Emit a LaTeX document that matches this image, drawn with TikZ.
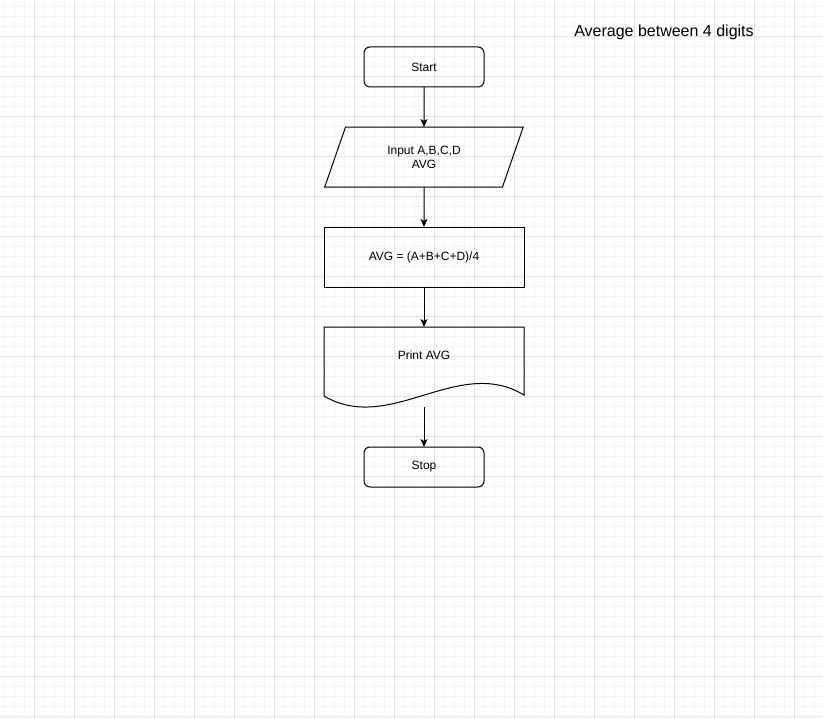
\documentclass[tikz,border=0pt]{standalone}
\usepackage{xcolor}
\usepackage{fontspec}
\setmainfont{Liberation Sans}
\usepackage{tikz}
\usetikzlibrary{arrows.meta,positioning,shapes.geometric}
\definecolor{minorgrid}{HTML}{F4F4F4}
\definecolor{majorgrid}{HTML}{E2E2E2}

\begin{document}
\begin{tikzpicture}[>={Stealth[length=8pt,width=7pt,inset=2pt]},x=1pt,y=1pt,node distance=40pt,
  every node/.style={font=\fontsize{12}{14}\selectfont,outer sep=0pt},
  term node/.style={rectangle,rounded corners=6pt,draw,line width=1pt,minimum width=120pt,minimum height=40pt},
  io node/.style={trapezium,trapezium left angle=71.57,trapezium right angle=108.43,trapezium stretches=true,
    draw,line width=1pt,minimum width=200pt,minimum height=60pt,align=center,inner xsep=0pt},
  proc node/.style={rectangle,draw,line width=1pt,minimum width=200pt,minimum height=60pt},
  doc node/.style={rectangle,minimum width=200pt,minimum height=56pt}]
  \useasboundingbox (0,0) rectangle (823,718);
  % grid
  \foreach \x in {4,14,...,824} \draw[minorgrid,line width=1pt] (\x,0) -- (\x,718);
  \foreach \y in {1,11,...,711} \draw[minorgrid,line width=1pt] (0,\y) -- (823,\y);
  \foreach \x in {34,74,...,794} \draw[majorgrid,line width=1pt] (\x,0) -- (\x,718);
  \foreach \y in {1,41,...,681} \draw[majorgrid,line width=1pt] (0,\y) -- (823,\y);

  \node (title) at (664,686) {\fontsize{16}{19}\selectfont Average between 4 digits};
  \node[term node] (start) at (424,651) {Start};
  \node[io node] (input) [below=of start] {Input A,B,C,D\\AVG};
  \node[proc node] (calc) [below=of input] {AVG = (A+B+C+D)/4};
  \node[doc node] (print) [below=of calc] {Print AVG};
  \coordinate[below=24pt of print] (printout);
  \node[term node] (stop) [below=of printout] {Stop};
  \draw[line width=1pt] (print.north west) -- (print.north east) -- ([yshift=-12pt]print.south east)
    .. controls ([shift={(-66pt,28pt)}]print.south east) and ([shift={(-134pt,-52pt)}]print.south east)
    .. ([yshift=-13pt]print.south west) -- cycle;
  \path[->,line width=1pt]
    (start) edge (input)
    (input) edge (calc)
    (calc) edge (print)
    (printout) edge (stop);
\end{tikzpicture}
\end{document}
